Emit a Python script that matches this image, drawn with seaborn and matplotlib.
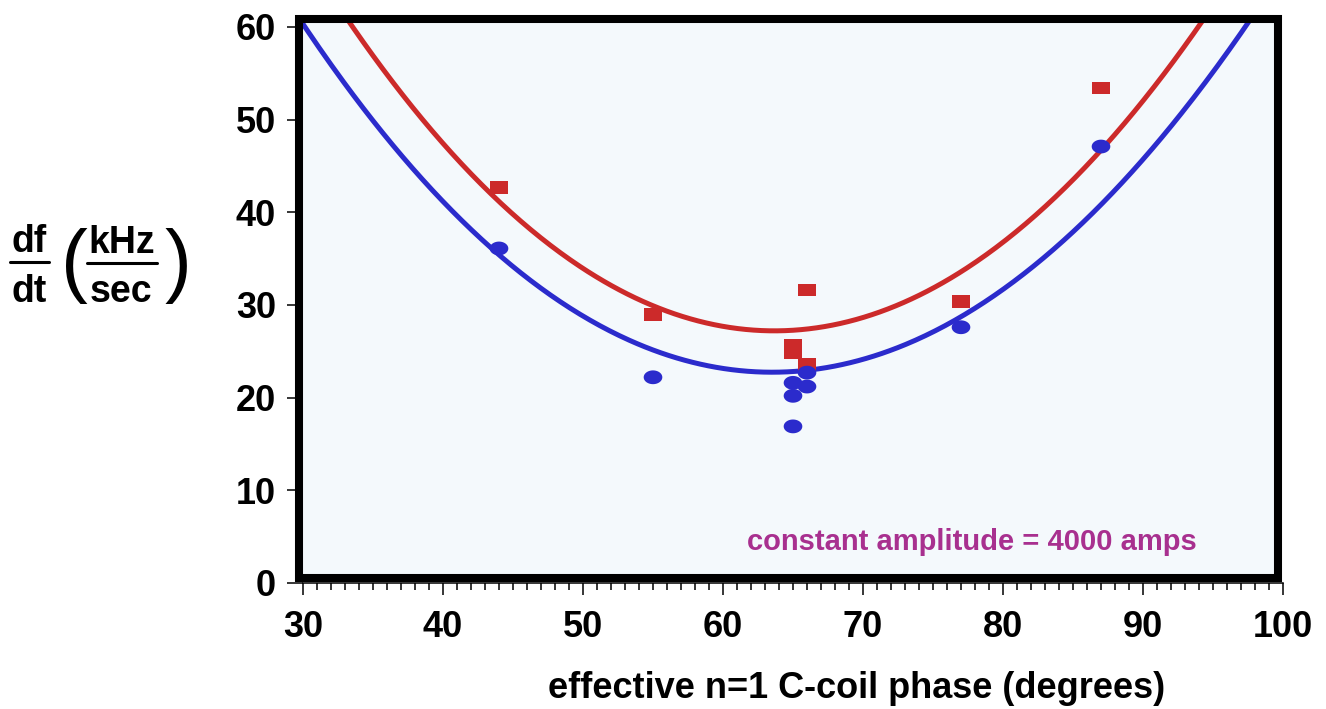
import numpy as np
import pandas as pd
import matplotlib
matplotlib.use("Agg")
import matplotlib.pyplot as plt
import seaborn as sns
from matplotlib.path import Path
from matplotlib.patches import Rectangle
from matplotlib.lines import Line2D

# ---------------- data ----------------
blue_x = [44, 55, 65, 65, 65, 66, 66, 77, 87]
blue_y = [36.1, 22.2, 21.6, 20.2, 16.9, 22.7, 21.2, 27.6, 47.1]
red_x = [44, 55, 65, 65, 66, 66, 77, 87]
red_y = [42.7, 29.0, 25.6, 24.9, 31.6, 23.6, 30.4, 53.4]

# points
blue_curve_x = [30, 38.4, 44.1, 47.4, 48.4, 58.4, 62.6, 68.4, 71.2, 81.2, 82.1, 92.6, 97.6]
blue_curve_y = [59.9, 44.2, 35.9, 31.3, 30.3, 23.3, 22.4, 23.3, 24.6, 33.2, 34.3, 51.2, 60.0]
red_curve_x = [33.2, 37.6, 41.2, 48.4, 55.5, 58.4, 62.6, 68.4, 71.2, 78.4, 84.1, 92.1, 94.3]
red_curve_y = [60.5, 52.1, 45.6, 35.3, 29.7, 28.2, 27.3, 28.0, 29.2, 34.8, 42.4, 56.4, 60.5]

x_ticks = [30, 40, 50, 60, 70, 80, 90, 100]
y_ticks = [0, 10, 20, 30, 40, 50, 60]
x_label = "effective n=1 C-coil phase (degrees)"
note = "constant amplitude = 4000 amps"

BLUE = "#2B2BCC"
RED = "#CC2A2A"
NOTE = "#A8308F"
PANEL = "#F4F9FC"

# ---------------- style ----------------
sns.set_style("white")
plt.rcParams["font.family"] = ["Liberation Sans", "DejaVu Sans"]
plt.rcParams["font.weight"] = "bold"
plt.rcParams["text.color"] = "black"
plt.rcParams["axes.labelcolor"] = "black"
plt.rcParams["xtick.color"] = "black"
plt.rcParams["ytick.color"] = "black"

W, H = 1326, 709
fig = plt.figure(figsize=(W / 100, H / 100), dpi=100)
ax = fig.add_axes([303 / W, 126 / H, 980 / W, 556 / H])
ax.set_facecolor("none")

# panel fill and thick frame
fill = Rectangle((29.71, 0.54), 99.64 - 29.71, 60.86 - 0.54, transform=ax.transData,
                 facecolor=PANEL, edgecolor="none", zorder=0, clip_on=False)
ax.add_patch(fill)
frame = Rectangle((29.71, 0.54), 99.64 - 29.71, 60.86 - 0.54, transform=ax.transData,
                  facecolor="none", edgecolor="black", linewidth=5.8, zorder=6,
                  clip_on=False, joinstyle="miter")
ax.add_patch(frame)

# fitted curves
xs = np.linspace(29.5, 99.8, 500)
bcoef = np.polyfit(blue_curve_x, blue_curve_y, 3)
rcoef = np.polyfit(red_curve_x, red_curve_y, 3)
curves = pd.DataFrame({"x": xs, "blue": np.polyval(bcoef, xs), "red": np.polyval(rcoef, xs)})
sns.lineplot(data=curves, x="x", y="red", ax=ax, color=RED, linewidth=3.6, zorder=2)
sns.lineplot(data=curves, x="x", y="blue", ax=ax, color=BLUE, linewidth=3.6, zorder=2)
for ln in ax.lines:
    ln.set_clip_path(fill)

# markers: wide rectangles and ellipses
rect_marker = Path([(-1, -0.72), (1, -0.72), (1, 0.72), (-1, 0.72), (-1, -0.72)], closed=True)
t = np.linspace(0, 2 * np.pi, 64)
ell_marker = Path(np.c_[np.cos(t), 0.74 * np.sin(t)], closed=True)

sns.scatterplot(x=red_x, y=red_y, ax=ax, marker=rect_marker, s=160, color=RED,
                edgecolor="none", linewidth=0, zorder=3)
sns.scatterplot(x=blue_x, y=blue_y, ax=ax, marker=ell_marker, s=180, color=BLUE,
                edgecolor="none", linewidth=0, zorder=4)

# axes
ax.set_xlim(30, 100)
ax.set_ylim(0, 60)
ax.set_xticks(x_ticks)
ax.set_xticks(np.arange(30, 101, 1), minor=True)
ax.set_yticks(y_ticks)
ax.set_xticklabels([str(v) for v in x_ticks])
ax.set_yticklabels([str(v) for v in y_ticks])
for s in ["top", "right"]:
    ax.spines[s].set_visible(False)
ax.spines["left"].set_visible(False)
ax.spines["bottom"].set_linewidth(1.1)
ax.spines["bottom"].set_color("black")
ax.tick_params(axis="x", which="major", direction="out", length=8.6, width=1.1,
               color="black", labelcolor="black", labelsize=26, pad=11, bottom=True)
ax.tick_params(axis="x", which="minor", direction="out", length=5, width=1.1,
               color="black", bottom=True)
ax.tick_params(axis="y", which="major", direction="out", length=11.5, width=1.1,
               color="black", labelcolor="black", labelsize=26, pad=8, left=True)
ax.set_ylabel("")
xl = ax.set_xlabel(x_label, fontsize=26, fontweight="bold", color="black")
xl.set_va("baseline")
ax.xaxis.set_label_coords((857 - 303) / 980, (583 - 698) / 556)

ax.text(77.8, 3.6, note, color=NOTE, fontsize=21, fontweight="bold",
        ha="center", va="baseline", zorder=5)

# composed y-axis label:  df/dt ( kHz/sec )
def P(x, y):
    return x / W, 1 - y / H

fig.text(*P(29, 252), "df", fontsize=27, fontweight="bold", ha="center", va="baseline", color="black")
fig.text(*P(29, 302), "dt", fontsize=27, fontweight="bold", ha="center", va="baseline", color="black")
fig.add_artist(Line2D([10 / W, 49 / W], [1 - 262 / H, 1 - 262 / H], color="black", lw=2.2))
fig.text(*P(74, 287), "(", fontsize=58, fontweight="normal", ha="center", va="baseline", color="black")
fig.text(*P(122, 253), "kHz", fontsize=27, fontweight="bold", ha="center", va="baseline", color="black")
fig.text(*P(121, 302), "sec", fontsize=27, fontweight="bold", ha="center", va="baseline", color="black")
fig.add_artist(Line2D([87 / W, 157 / W], [1 - 263 / H, 1 - 263 / H], color="black", lw=2.2))
fig.text(*P(178, 287), ")", fontsize=58, fontweight="normal", ha="center", va="baseline", color="black")

fig.savefig("out.png", dpi=100, facecolor="white")
